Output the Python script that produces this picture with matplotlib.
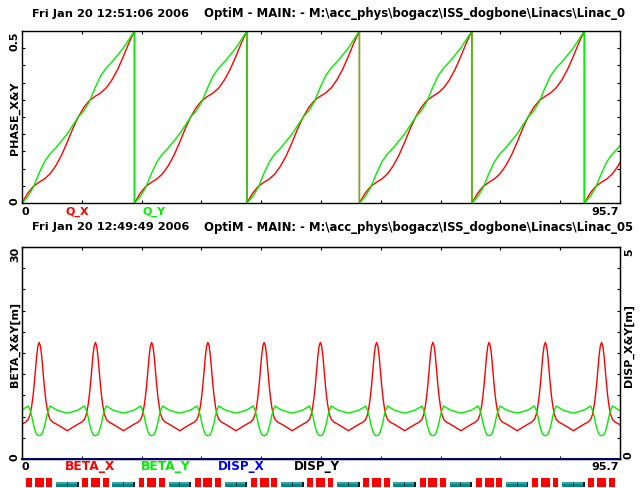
import numpy as np
import matplotlib
matplotlib.use('Agg')
import matplotlib.pyplot as plt
from matplotlib.patches import Rectangle

plt.rcParams['font.family'] = ['DejaVu Sans']
plt.rcParams['font.weight'] = 'bold'

# ---- lattice data ----
s_max = 95.7
cell_length = 9.0          # one FODO-like cell
first_peak = 2.75          # position of first beta_x maximum
wrap_length = 18.0         # phase wraps at 0.5 every two cells

# phase advance over one wrap interval (units of 2*pi)
phase_s = [0, 0.9, 1.8, 2.7, 3.6, 4.5, 5.4, 6.3, 7.2, 8.1, 9.0,
           9.9, 10.8, 11.7, 12.6, 13.5, 14.4, 15.3, 16.2, 17.1, 18.0]
phase_x = [0, 0.028, 0.048, 0.06, 0.07, 0.085, 0.108, 0.138, 0.175, 0.215, 0.25,
           0.278, 0.298, 0.31, 0.32, 0.335, 0.358, 0.388, 0.425, 0.465, 0.5]
phase_y = [0, 0.018, 0.045, 0.085, 0.12, 0.143, 0.16, 0.18, 0.2, 0.225, 0.25,
           0.268, 0.295, 0.335, 0.37, 0.393, 0.41, 0.43, 0.45, 0.475, 0.5]

# beta functions over one cell, u measured from the beta_x peak
cell_u = [-4.5, -3.6, -2.75, -2.2, -1.75, -1.45, -1.2, -1.0, -0.8, -0.6, -0.4, -0.2, 0,
          0.2, 0.4, 0.6, 0.8, 1.0, 1.2, 1.45, 1.75, 2.2, 2.75, 3.6, 4.5]
beta_x_cell = [4.0, 4.5, 4.95, 5.2, 5.6, 6.3, 7.5, 8.8, 10.5, 12.5, 14.6, 16.0, 16.5,
               16.0, 14.6, 12.5, 10.5, 8.8, 7.5, 6.3, 5.6, 5.2, 4.95, 4.5, 4.0]
beta_y_cell = [6.5, 6.7, 6.95, 7.25, 7.5, 6.9, 6.1, 5.2, 4.5, 3.9, 3.5, 3.35, 3.3,
               3.35, 3.5, 3.9, 4.5, 5.2, 6.1, 6.9, 7.5, 7.25, 6.95, 6.7, 6.5]

# dispersion is zero along the linac
disp_s = [0, s_max]
disp_x = [0, 0]
disp_y = [0, 0]

# magnets in one cell (start, end) relative to the beta_x peak
quads = [(-2.1, -1.15), (-0.72, 0.72), (1.15, 2.1)]
solenoids = [(2.7, 6.3)]

RED = '#ff0000'
GREEN = '#00ee00'
BLUE = '#0000ff'
TEAL = '#0a8585'

W, H = 640, 489
def fx(px):
    return px / W
def fy(py):
    return 1 - py / H

fig = plt.figure(figsize=(6.4, 4.89), dpi=100)
fig.patch.set_facecolor('white')

def style_axis(ax):
    ax.tick_params(direction='in', length=2.5, width=0.8, top=True, right=True,
                   labelleft=False, labelbottom=False, labelright=False, labeltop=False)
    for sp in ax.spines.values():
        sp.set_linewidth(1.0)

xt = np.linspace(0, s_max, 11)

# ---- phase plot ----
ax1 = fig.add_axes([fx(22), fy(204), 598 / W, 172 / H])
sx, px_, py_ = [], [], []
for k in range(int(np.ceil(s_max / wrap_length))):
    sx.extend(np.array(phase_s) + k * wrap_length)
    px_.extend(phase_x)
    py_.extend(phase_y)
ax1.plot(sx, px_, color=RED, lw=1.0)
ax1.plot(sx, py_, color=GREEN, lw=1.0)
ax1.set_xlim(0, s_max)
ax1.set_ylim(0, 0.5)
ax1.set_xticks(xt)
ax1.set_yticks(np.arange(0, 0.501, 0.05))
style_axis(ax1)

# ---- beta plot ----
ax2 = fig.add_axes([fx(22), fy(460), 598 / W, 212 / H])
sb, bx, by = [], [], []
for k in range(-1, 11):
    sb.extend(np.array(cell_u) + first_peak + k * cell_length)
    bx.extend(beta_x_cell)
    by.extend(beta_y_cell)
ax2.plot(sb, bx, color=RED, lw=1.0)
ax2.plot(sb, by, color=GREEN, lw=1.0)
ax2.set_xlim(0, s_max)
ax2.set_ylim(0, 30)
ax2.set_xticks(xt)
ax2.set_yticks(np.arange(0, 30.1, 3))
style_axis(ax2)

ax2r = ax2.twinx()
ax2r.plot(disp_s, disp_y, color='black', lw=1.2, clip_on=False)
ax2r.plot(disp_s, disp_x, color='#000090', lw=1.2, clip_on=False)
ax2r.set_ylim(0, 5)
ax2r.set_yticks(np.arange(0, 5.01, 0.5))
ax2r.tick_params(direction='in', length=2.5, width=0.8, labelright=False)

# ---- magnet layout ----
axm = fig.add_axes([fx(22), 0, 598 / W, 19 / H])
axm.set_xlim(0, s_max)
axm.set_ylim(0, 19)
axm.axis('off')
for k in range(0, 11):
    c = first_peak + k * cell_length
    for a, b in quads:
        if c + b <= s_max:
            axm.add_patch(Rectangle((c + a, 1.0), b - a, 9.5, color=RED, lw=0))
    for a, b in solenoids:
        if c + b <= s_max:
            axm.add_patch(Rectangle((c + a, 1.0), b - a, 5.0, color=TEAL, lw=0))
            axm.add_patch(Rectangle((c + a, 4.3), b - a, 1.7, color='#3aa5a5', lw=0))
            axm.add_patch(Rectangle((c + b - 0.3, 1.0), 0.3, 5.0, color='#062020', lw=0))
            axm.add_patch(Rectangle((c + (a + b) / 2 - 0.08, 1.0), 0.16, 5.0,
                                    color='#064040', lw=0))

# ---- texts ----
fs = 8
def txt(x, y, s, **kw):
    kw.setdefault('fontsize', fs)
    kw.setdefault('va', 'center')
    fig.text(fx(x), fy(y), s, fontweight='bold', **kw)

txt(32, 14, 'Fri Jan 20 12:51:06 2006', fontsize=8.2)
txt(204, 14, r'OptiM - MAIN: - M:\acc_phys\bogacz\ISS_dogbone\Linacs\Linac_0', fontsize=8.4)
txt(32, 227, 'Fri Jan 20 12:49:49 2006', fontsize=8.2)
txt(204, 227, r'OptiM - MAIN: - M:\acc_phys\bogacz\ISS_dogbone\Linacs\Linac_05', fontsize=8.4)

txt(15, 118, 'PHASE_X&Y', rotation=90, ha='center')
txt(15, 41, '0.5', rotation=90, ha='center')
txt(15, 201, '0', rotation=90, ha='center')
txt(25, 212, '0', ha='center')
txt(77, 212, 'Q_X', ha='center', color=RED)
txt(154, 212, 'Q_Y', ha='center', color=GREEN)
txt(619, 212, '95.7', ha='right')

txt(15, 254, '30', rotation=90, ha='center')
txt(15, 344, 'BETA_X&Y[m]', rotation=90, ha='center')
txt(14, 457, '0', rotation=90, ha='center')
txt(629, 252, '5', rotation=90, ha='center')
txt(629, 346, 'DISP_X&Y[m]', rotation=90, ha='center')
txt(629, 455, '0', rotation=90, ha='center')
txt(25, 467, '0', ha='center')
txt(90, 467, 'BETA_X', ha='center', color=RED, fontsize=8.8)
txt(166, 467, 'BETA_Y', ha='center', color=GREEN, fontsize=8.8)
txt(241, 467, 'DISP_X', ha='center', color=BLUE, fontsize=8.6)
txt(317, 467, 'DISP_Y', ha='center', color='black', fontsize=8.6)
txt(619, 467, '95.7', ha='right')

fig.savefig('out.png', dpi=100)
